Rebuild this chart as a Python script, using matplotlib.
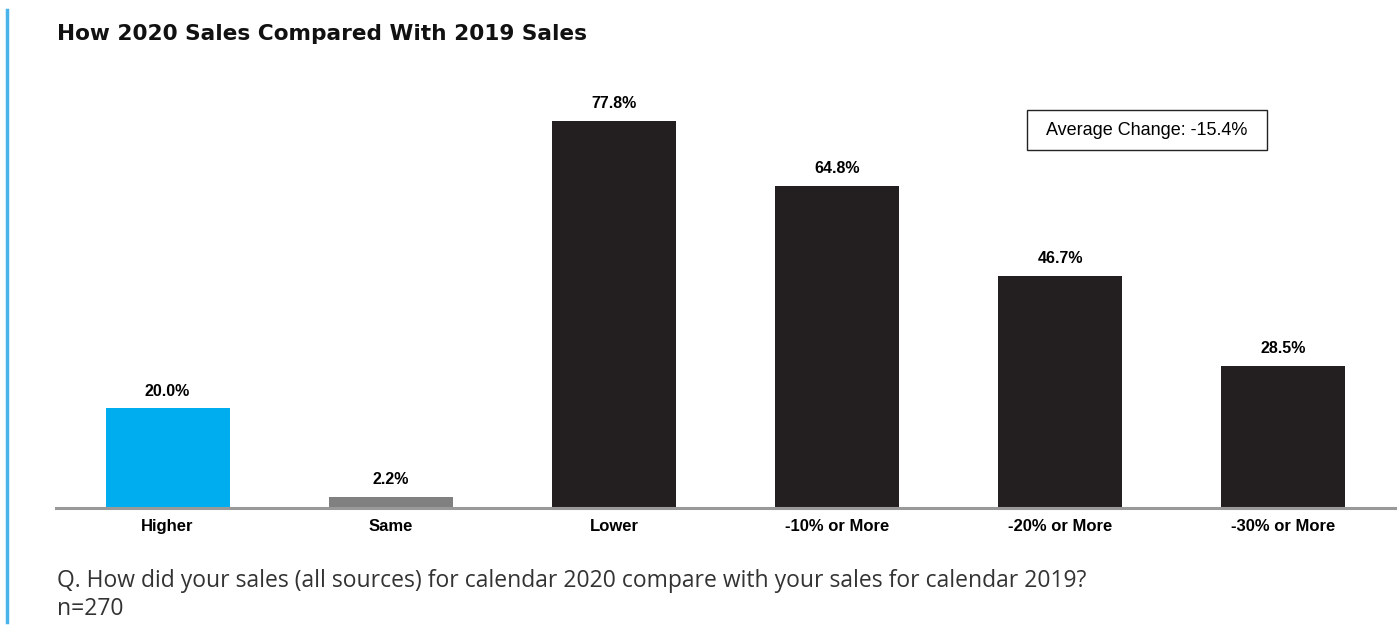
import matplotlib.pyplot as plt
from matplotlib.lines import Line2D
from matplotlib.patches import Rectangle

# survey results: share of respondents per sales-change bucket
categories = ["Higher", "Same", "Lower", "-10% or More", "-20% or More", "-30% or More"]
shares = [20.0, 2.2, 77.8, 64.8, 46.7, 28.5]
bar_colors = ["#00AEEF", "#808080", "#231F20", "#231F20", "#231F20", "#231F20"]
avg_change = -15.4

fig = plt.figure(figsize=(14, 6.32), dpi=100)
ax = fig.add_axes([0.04, 0.1962, 0.9564, 0.677])

x = list(range(len(categories)))
ax.bar(x, shares, width=0.555, color=bar_colors, zorder=2)
for xi, v in zip(x, shares):
    ax.text(xi, v + 2.0, "{:.1f}%".format(v), ha="center", va="bottom",
            fontsize=11.5, fontweight="bold", family="Liberation Sans")

ax.set_xlim(-0.5, len(categories) - 0.5)
ax.set_ylim(0, 86)
ax.set_xticks(x)
ax.set_xticklabels(categories, fontsize=12, fontweight="bold", family="Liberation Sans")
ax.tick_params(axis="x", length=0, pad=8)
ax.set_yticks([])
for side in ["top", "right", "left"]:
    ax.spines[side].set_visible(False)
ax.spines["bottom"].set_color("#999999")
ax.spines["bottom"].set_linewidth(2.2)

# boxed note with the average change
ax.add_patch(Rectangle((0.7252, 0.8364), 0.1792, 0.0935, transform=ax.transAxes,
                       facecolor="white", edgecolor="#222222", linewidth=1, zorder=3))
ax.text(0.8148, 0.8832, "Average Change: {:.1f}%".format(avg_change), transform=ax.transAxes,
        ha="center", va="center", fontsize=13, family="Liberation Sans", zorder=4)

# accent rule down the left edge
fig.add_artist(Line2D([0.005, 0.005], [0.016, 0.984], transform=fig.transFigure,
                      color="#4AB3EC", linewidth=2.5))

fig.text(0.0407, 0.946, "How 2020 Sales Compared With 2019 Sales", fontsize=15.6,
         fontweight="bold", family="DejaVu Sans", va="center", color="#111111")
fig.text(0.0407, 0.08, "Q. How did your sales (all sources) for calendar 2020 compare with your sales for calendar 2019?",
         fontsize=16.5, family="Open Sans", va="center", color="#333333")
fig.text(0.0407, 0.036, "n=270", fontsize=16.5, family="Open Sans", va="center", color="#333333")

fig.savefig("out.png", dpi=100, facecolor="white")
